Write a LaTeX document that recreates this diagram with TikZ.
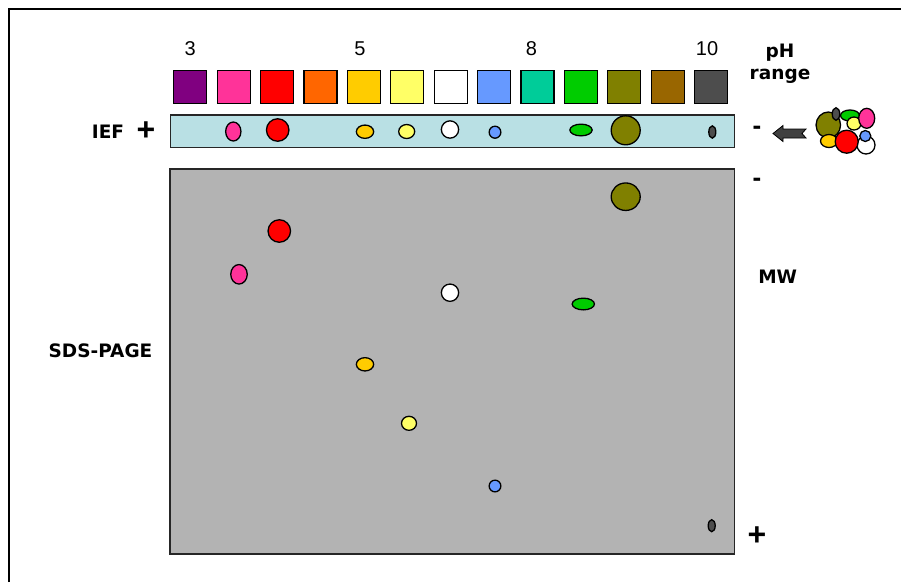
\documentclass[tikz,border=0pt]{standalone}
\usepackage{fontspec}
\setmainfont{Liberation Sans}
\newfontfamily\tagfont{DejaVu Sans}
\usetikzlibrary{positioning,shapes.geometric}
\definecolor{ph1}{HTML}{800080}
\definecolor{ph2}{HTML}{FF3399}
\definecolor{ph3}{HTML}{FF0000}
\definecolor{ph4}{HTML}{FF6600}
\definecolor{ph5}{HTML}{FFCC00}
\definecolor{ph6}{HTML}{FFFF66}
\definecolor{ph7}{HTML}{FFFFFF}
\definecolor{ph8}{HTML}{6699FF}
\definecolor{ph9}{HTML}{00CC99}
\definecolor{ph10}{HTML}{00CC00}
\definecolor{ph11}{HTML}{808000}
\definecolor{ph12}{HTML}{996600}
\definecolor{ph13}{HTML}{4D4D4D}
\definecolor{stripfill}{HTML}{B9E0E4}
\definecolor{gelfill}{HTML}{B3B3B3}
\definecolor{arrowfill}{HTML}{404040}

\begin{document}
\begin{tikzpicture}[
  x=1pt, y=-1pt,
  phbox/.style={draw=black, line width=1.2pt, minimum width=33pt, minimum height=33pt, inner sep=0pt},
  phnum/.style={font=\fontsize{20}{22}\selectfont, inner sep=0pt},
  tag/.style={font=\fontsize{18.5}{22}\selectfont\tagfont\bfseries, align=center, inner sep=0pt},
  sign/.style={font=\fontsize{32}{32}\selectfont\bfseries, inner sep=0pt},
  strip/.style={draw=black!85, line width=1.4pt, fill=stripfill},
  gel/.style={draw=black!85, line width=1.4pt, fill=gelfill},
  spot/.style={ellipse, draw=black, line width=1.3pt, inner sep=0pt},
]
\useasboundingbox (0,0) rectangle (901,582);
\draw[line width=2pt] (8.5,582) -- (8.5,8.5) -- (901,8.5);

% pH scale
\foreach \i in {1,...,13}
  \node[phbox, fill=ph\i] (sq\i) at ({190.3+43.4*(\i-1)},87.3) {};
\node[phnum, above=14pt of sq1] (n3) {3};
\node[phnum, above=14pt of sq5, xshift=-4pt] (n5) {5};
\node[phnum, above=14pt of sq9, xshift=-6pt] (n8) {8};
\node[phnum, above=14pt of sq13, xshift=-4pt] (n10) {10};
\node[tag] (phrange) at (780,64) {pH\\range};

% IEF strip
\draw[strip] (170.7,115) rectangle (734.3,147.3);
\node[tag] (ief) at (108,131.5) {IEF};
\node[sign] (iefplus) at (146,131) {+};
\node[sign, font=\fontsize{26}{26}\selectfont\bfseries] (iefminus) at (757,130) {-};
\node[spot, fill=ph2, minimum width=15.3pt, minimum height=19pt] (i2) at (233.3,131.5) {};
\node[spot, fill=ph3, minimum width=22.5pt, minimum height=22.5pt] (i3) at (277.7,130) {};
\node[spot, fill=ph5, minimum width=17.3pt, minimum height=13.3pt] (i5) at (365,131.7) {};
\node[spot, fill=ph6, minimum width=16pt, minimum height=14pt] (i6) at (406.7,131.5) {};
\node[spot, fill=ph7, minimum width=17.3pt, minimum height=17.3pt] (i7) at (450,129.5) {};
\node[spot, fill=ph8, minimum width=11.7pt, minimum height=12pt] (i8) at (495,132.2) {};
\node[spot, fill=ph10, minimum width=22.3pt, minimum height=11.7pt] (i10) at (581,130) {};
\node[spot, fill=ph11, minimum width=29pt, minimum height=29pt] (i11) at (625.7,130.3) {};
\node[spot, fill=ph13, minimum width=7pt, minimum height=12.3pt] (i13) at (712.3,132) {};

% sample mixture and loading arrow
\coordinate (tip) at (773,133.5);
\draw[fill=arrowfill, draw=black, line width=0.8pt] (tip) -- ++(10,-8) -- ++(0,3.5) -- ++(23,0) -- ++(-4,4.5) -- ++(4,4.5) -- ++(-23,0) -- ++(0,3.5) -- cycle;
\node[spot, fill=ph11, minimum width=24.5pt, minimum height=26pt] (m11) at (828.3,125) {};
\node[spot, fill=ph13, minimum width=7.5pt, minimum height=12.5pt] (m13) at (836,114) {};
\node[spot, fill=ph10, minimum width=19pt, minimum height=11pt] (m10) at (850,115.5) {};
\node[spot, fill=ph6, minimum width=14pt, minimum height=13pt] (m6) at (854,123.5) {};
\node[spot, fill=ph2, minimum width=16pt, minimum height=20pt] (m2) at (866.7,118.3) {};
\node[spot, fill=ph7, minimum width=18pt, minimum height=18pt] (m7) at (866,145) {};
\node[spot, fill=ph5, minimum width=17pt, minimum height=13pt] (m5) at (829,141) {};
\node[spot, fill=ph3, minimum width=23pt, minimum height=23pt] (m3) at (846.7,141.7) {};
\node[spot, fill=ph8, minimum width=11pt, minimum height=11pt] (m8) at (865.3,136) {};

% SDS-PAGE gel
\draw[gel] (170,169) rectangle (734.3,554);
\node[tag] (sds) at (100.5,351) {SDS-PAGE};
\node[tag] (mw) at (777.7,277) {MW};
\node[sign, font=\fontsize{26}{26}\selectfont\bfseries] (gelminus) at (757,182) {-};
\node[sign] (gelplus) at (757,536) {+};
\node[spot, fill=ph2, minimum width=16.5pt, minimum height=19.5pt] (g2) at (239,274.3) {};
\node[spot, fill=ph3, minimum width=22.5pt, minimum height=22.5pt] (g3) at (279.3,231) {};
\node[spot, fill=ph5, minimum width=17.3pt, minimum height=13.3pt] (g5) at (365,364.3) {};
\node[spot, fill=ph6, minimum width=15pt, minimum height=14pt] (g6) at (409,423.3) {};
\node[spot, fill=ph7, minimum width=17.3pt, minimum height=17.3pt] (g7) at (450,292.7) {};
\node[spot, fill=ph8, minimum width=11.7pt, minimum height=11.7pt] (g8) at (495,486) {};
\node[spot, fill=ph10, minimum width=22.3pt, minimum height=11.7pt] (g10) at (583.3,304) {};
\node[spot, fill=ph11, minimum width=29pt, minimum height=27.5pt] (g11) at (625.7,196.7) {};
\node[spot, fill=ph13, minimum width=7pt, minimum height=12pt] (g13) at (711.7,525.7) {};
\end{tikzpicture}
\end{document}
